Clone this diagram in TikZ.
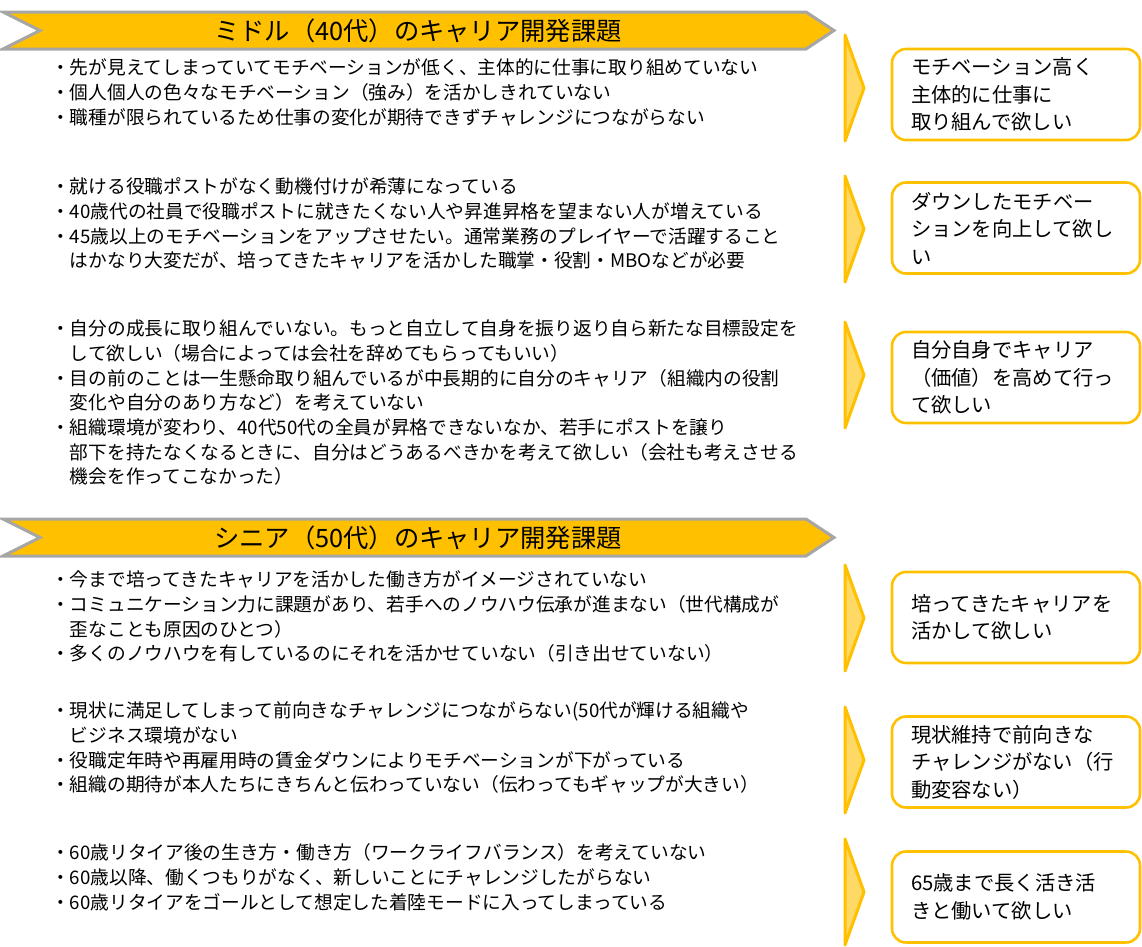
\documentclass[tikz,border=0pt]{standalone}
\usepackage{fontspec}
\setmainfont{Noto Sans CJK JP}
\usepackage{xcolor}
\usetikzlibrary{positioning}
\definecolor{gold}{HTML}{FFC000}
\definecolor{paleGold}{HTML}{FFD966}
\definecolor{rimGray}{HTML}{A6A6A6}
\newcommand{\ind}{\hspace*{1em}}

\begin{document}
\begin{tikzpicture}[
  x=1pt, y=-1pt,
  every node/.style={inner sep=0pt},
  banner/.style={fill=gold, draw=rimGray, line width=3pt},
  ttl/.style={font=\fontsize{25.3}{30}\selectfont},
  issue/.style={anchor=north west, align=left, font=\fontsize{18.7}{24.7}\selectfont},
  wish/.style={draw=gold, line width=2.6pt, rounded corners=14pt,
               minimum width=248pt, minimum height=91pt, text width=210pt,
               align=left, font=\fontsize{20.3}{27.5}\selectfont},
  chev/.style={fill=paleGold, draw=gold, line width=3pt, line join=round}
]
\useasboundingbox (0,0) rectangle (1142,946);

%% banners
\draw[banner] (3,12) -- (806,12) -- (834,30.5) -- (806,49) -- (3,49) -- (40,30.5) -- cycle;
\node[ttl] (t1) at (418,30.5) {ミドル（40代）のキャリア開発課題};
\draw[banner] (3,519) -- (806,519) -- (834,537.5) -- (806,556) -- (3,556) -- (40,537.5) -- cycle;
\node[ttl] (t2) at (418,537.5) {シニア（50代）のキャリア開発課題};

%% chevrons
\foreach \yc in {88,229,375,618,760,892}
  \draw[chev] (845,\yc-53) -- (864,\yc) -- (845,\yc+53) -- cycle;

%% middle issues
\node[issue] (m1) at (51,58.7) {・先が見えてしまっていてモチベーションが低く、主体的に仕事に取り組めていない\\
・個人個人の色々なモチベーション（強み）を活かしきれていない\\
・職種が限られているため仕事の変化が期待できずチャレンジにつながらない};
\node[issue] (m2) at (51,177.7) {・就ける役職ポストがなく動機付けが希薄になっている\\
・40歳代の社員で役職ポストに就きたくない人や昇進昇格を望まない人が増えている\\
・45歳以上のモチベーションをアップさせたい。通常業務のプレイヤーで活躍すること\\
\ind はかなり大変だが、培ってきたキャリアを活かした職掌・役割・MBOなどが必要};
\node[issue] (m3) at (51,319.7) {・自分の成長に取り組んでいない。もっと自立して自身を振り返り自ら新たな目標設定を\\
\ind して欲しい（場合によっては会社を辞めてもらってもいい）\\
・目の前のことは一生懸命取り組んでいるが中長期的に自分のキャリア（組織内の役割\\
\ind 変化や自分のあり方など）を考えていない\\
・組織環境が変わり、40代50代の全員が昇格できないなか、若手にポストを譲り\\
\ind 部下を持たなくなるときに、自分はどうあるべきかを考えて欲しい（会社も考えさせる\\
\ind 機会を作ってこなかった）};

%% senior issues
\node[issue] (s1) at (51,570.7) {・今まで培ってきたキャリアを活かした働き方がイメージされていない\\
・コミュニケーション力に課題があり、若手へのノウハウ伝承が進まない（世代構成が\\
\ind 歪なことも原因のひとつ）\\
・多くのノウハウを有しているのにそれを活かせていない（引き出せていない）};
\node[issue] (s2) at (51,701.7) {・現状に満足してしまって前向きなチャレンジにつながらない(50代が輝ける組織や\\
\ind ビジネス環境がない\\
・役職定年時や再雇用時の賃金ダウンによりモチベーションが下がっている\\
・組織の期待が本人たちにきちんと伝わっていない（伝わってもギャップが大きい）};
\node[issue] (s3) at (51,843.7) {・60歳リタイア後の生き方・働き方（ワークライフバランス）を考えていない\\
・60歳以降、働くつもりがなく、新しいことにチャレンジしたがらない\\
・60歳リタイアをゴールとして想定した着陸モードに入ってしまっている};

%% wishes
\node[wish] (w1) at (1016,94.5) {モチベーション高く\\主体的に仕事に\\取り組んで欲しい};
\node[wish] (w2) at (1016,228) {ダウンしたモチベー\\ションを向上して欲し\\い};
\node[wish] (w3) at (1016,377.5) {自分自身でキャリア\\（価値）を高めて行っ\\て欲しい};
\node[wish] (w4) at (1016,617.5) {培ってきたキャリアを\\活かして欲しい};
\node[wish] (w5) at (1016,762) {現状維持で前向きな\\チャレンジがない（行\\動変容ない）};
\node[wish] (w6) at (1016,897) {65歳まで長く活き活\\きと働いて欲しい};
\end{tikzpicture}
\end{document}
